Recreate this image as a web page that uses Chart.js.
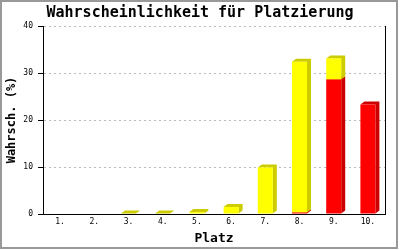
<!DOCTYPE html>
<html>
<head>
<meta charset="utf-8">
<script src="https://cdn.jsdelivr.net/npm/chart.js@4"></script>
<style>
  body { margin: 0; background: #fff; }
  canvas { display: block; }
</style>
</head>
<body>
<canvas id="placeChart" width="400" height="250"></canvas>
<script>
// Data
const places = ['1.', '2.', '3.', '4.', '5.', '6.', '7.', '8.', '9.', '10.'];
const redValues = [0, 0, 0, 0, 0, 0, 0, 0.3, 28.6, 23.3];
const yellowValues = [0, 0, 0.1, 0.1, 0.4, 1.5, 9.9, 32.1, 4.5, 0];
const yTicks = [0, 10, 20, 30, 40];

const mono = 'DejaVu Sans Mono';

// Side and top faces of the bars, drawn before the fronts
const depthPlugin = {
    id: 'depth',
    beforeDatasetsDraw(chart) {
        const ctx = chart.ctx;
        const dx = 4, dy = 3;
        chart.data.datasets.forEach((ds, i) => {
            const meta = chart.getDatasetMeta(i);
            ctx.save();
            ctx.fillStyle = ds.depthColor;
            meta.data.forEach((bar, j) => {
                if (!ds.data[j]) return;
                const p = bar.getProps(['x', 'y', 'base', 'width'], true);
                const l = p.x - p.width / 2, r = p.x + p.width / 2;
                ctx.beginPath();
                ctx.moveTo(r, p.base);
                ctx.lineTo(r, p.y);
                ctx.lineTo(l, p.y);
                ctx.lineTo(l + dx, p.y - dy);
                ctx.lineTo(r + dx, p.y - dy);
                ctx.lineTo(r + dx, p.base - dy);
                ctx.closePath();
                ctx.fill();
            });
            ctx.restore();
        });
    },
    afterDraw(chart) {
        const ctx = chart.ctx;
        const a = chart.chartArea;
        ctx.save();
        ctx.strokeStyle = '#000';
        ctx.lineWidth = 1;
        ctx.beginPath();
        ctx.moveTo(Math.round(a.right) + 0.5, a.top);
        ctx.lineTo(Math.round(a.right) + 0.5, a.bottom);
        ctx.stroke();
        ctx.strokeStyle = '#999';
        ctx.lineWidth = 2;
        ctx.strokeRect(1, 1, 396, 247);
        ctx.restore();
    }
};

new Chart(document.getElementById('placeChart'), {
    type: 'bar',
    data: {
        labels: places,
        datasets: [
            {
                label: 'rot',
                data: redValues,
                backgroundColor: '#ff0000',
                depthColor: '#cc0000',
                borderWidth: 0,
                inflateAmount: 0,
                barThickness: 15
            },
            {
                label: 'gelb',
                data: yellowValues,
                backgroundColor: '#ffff00',
                depthColor: '#cccc00',
                borderWidth: 0,
                inflateAmount: 0,
                barThickness: 15
            }
        ]
    },
    options: {
        responsive: false,
        animation: false,
        layout: { padding: 0 },
        scales: {
            x: {
                stacked: true,
                grid: { display: false, drawTicks: false },
                border: { color: '#000', width: 1 },
                ticks: {
                    color: '#000',
                    font: { family: mono, size: 8 },
                    padding: 3,
                    maxRotation: 0
                },
                title: {
                    display: true,
                    text: 'Platz',
                    color: '#000',
                    font: { family: mono, size: 13, weight: 'bold' },
                    padding: { top: 0, bottom: 4 }
                },
                afterFit: s => { s.height = 36; }
            },
            y: {
                stacked: true,
                min: 0,
                max: 40,
                afterBuildTicks: s => { s.ticks = yTicks.map(v => ({ value: v })); },
                grid: {
                    color: c => c.tick && c.tick.value === 0 ? 'rgba(0,0,0,0)' : '#bbbbbb',
                    tickColor: '#000',
                    tickLength: 5,
                    lineWidth: 1
                },
                border: { color: '#000', width: 1, dash: [2, 3] },
                ticks: {
                    color: '#000',
                    font: { family: mono, size: 8 },
                    padding: 5
                },
                title: {
                    display: true,
                    text: 'Wahrsch. (%)',
                    color: '#000',
                    font: { family: mono, size: 12, weight: 'bold' },
                    padding: { top: 5, bottom: 0 }
                },
                afterFit: s => { s.width = 43; }
            },
            // empty right margin so the title stays centred on the whole picture
            yRight: {
                position: 'right',
                grid: { display: false, drawTicks: false },
                border: { display: false },
                ticks: { display: false },
                afterFit: s => { s.width = 15; }
            }
        },
        plugins: {
            legend: { display: false },
            tooltip: { enabled: false },
            title: {
                display: true,
                text: 'Wahrscheinlichkeit für Platzierung',
                color: '#000',
                font: { family: mono, size: 15, weight: 'bold' },
                padding: { top: 4, bottom: 4 }
            }
        }
    },
    plugins: [depthPlugin]
});
</script>
</body>
</html>
